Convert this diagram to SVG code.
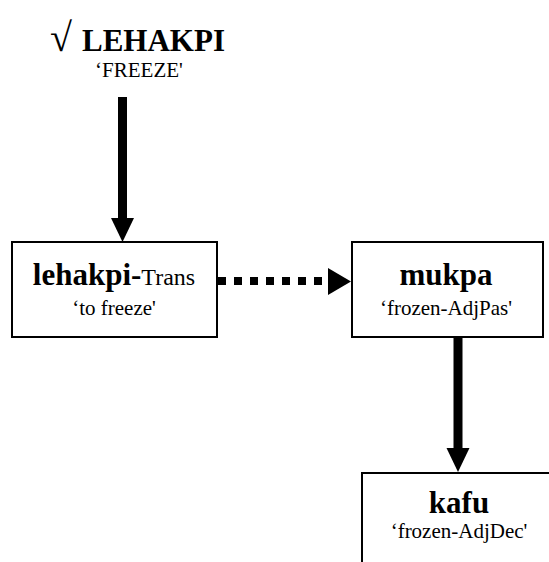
<svg xmlns="http://www.w3.org/2000/svg" width="549" height="562" viewBox="0 0 549 562">
  <style>
    text { font-family: "Liberation Serif", "Times New Roman", serif; fill: #000; text-anchor: middle; }
    .head { font-weight: bold; font-size: 31px; }
    .gloss { font-size: 21px; }
    .tag { font-weight: normal; font-size: 24px; }
    .radical { font-weight: normal; font-size: 40px; }
    text.start { text-anchor: start; }
    .box { fill: #fff; stroke: #000; stroke-width: 2; }
    .shaft { stroke: #000; stroke-width: 9; fill: none; }
    .dots { stroke: #000; stroke-width: 8; stroke-dasharray: 8 8; fill: none; }
    .tip { fill: #000; }
  </style>

  <!-- root -->
  <g id="root">
    <text y="51" class="head start"><tspan x="50" class="radical">√</tspan><tspan x="82">LEHAKPI</tspan></text>
    <text x="139" y="77" class="gloss">‘FREEZE'</text>
  </g>

  <!-- verb: lehakpi-Trans -->
  <g id="node-lehakpi">
    <rect class="box" x="12" y="242" width="205" height="95"/>
    <text x="114" y="285" class="head">lehakpi-<tspan class="tag">Trans</tspan></text>
    <text x="114" y="315" class="gloss">‘to freeze'</text>
  </g>

  <!-- passive adjective: mukpa -->
  <g id="node-mukpa">
    <rect class="box" x="352" y="242" width="191" height="95"/>
    <text x="446" y="285" class="head">mukpa</text>
    <text x="446" y="315" class="gloss">‘frozen-AdjPas'</text>
  </g>

  <!-- decausative adjective: kafu (runs off the page) -->
  <g id="node-kafu">
    <rect class="box" x="362" y="473" width="200" height="100"/>
    <text x="459" y="513" class="head">kafu</text>
    <text x="459" y="538" class="gloss">‘frozen-AdjDec'</text>
  </g>

  <!-- connectors -->
  <g id="connectors">
    <line class="shaft" x1="122.5" y1="97" x2="122.5" y2="220"/>
    <polygon class="tip" points="111,218 134,218 122.5,242"/>

    <line class="dots" x1="218" y1="281" x2="330" y2="281"/>
    <polygon class="tip" points="328,268 351,281.5 328,295"/>

    <line class="shaft" x1="458" y1="338" x2="458" y2="450"/>
    <polygon class="tip" points="446.5,448 469.5,448 458,472"/>
  </g>
</svg>
